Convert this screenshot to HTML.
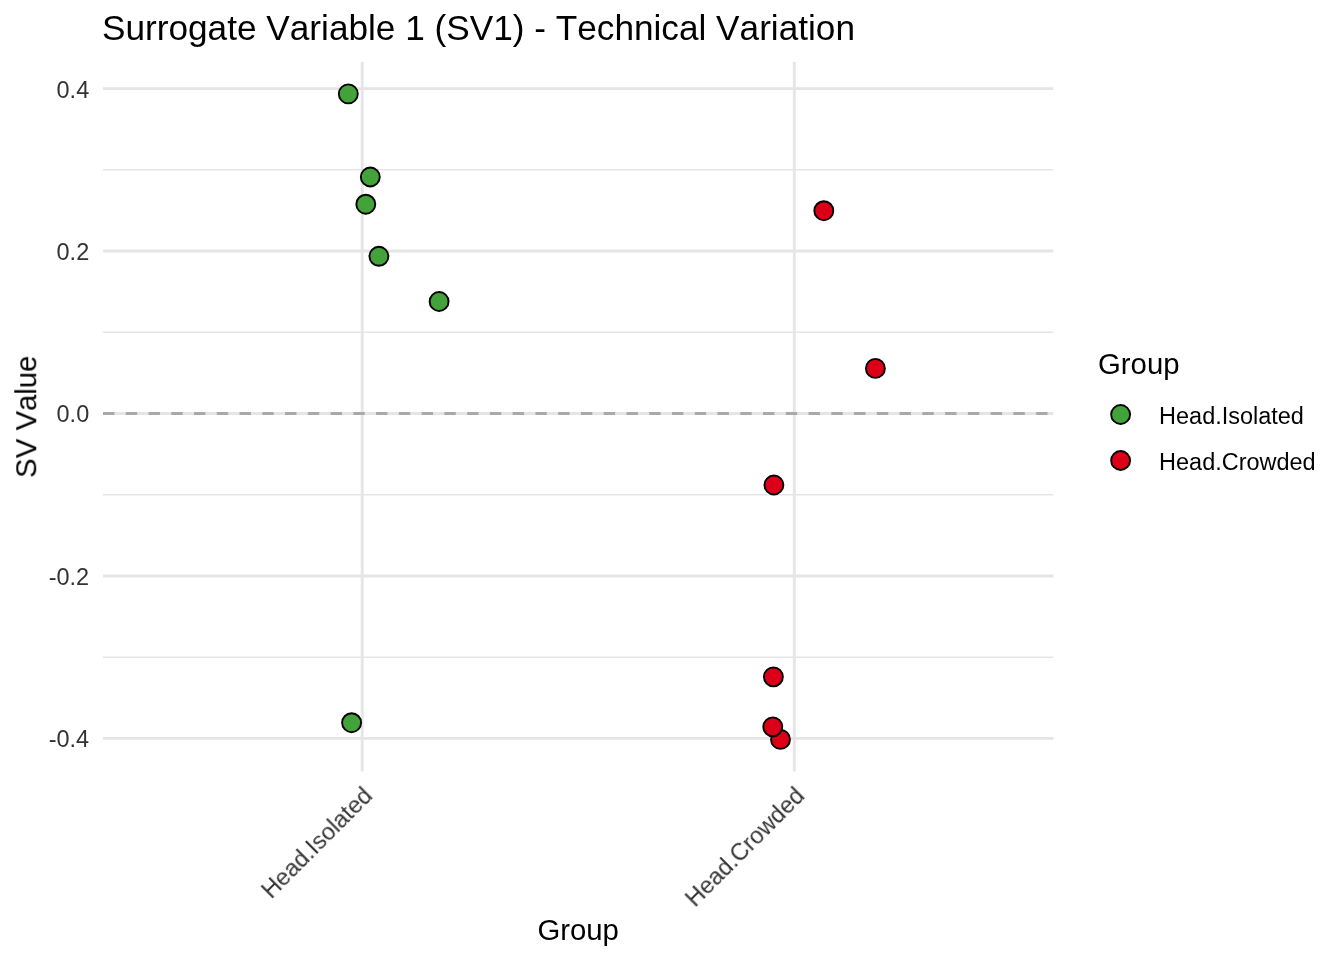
<!DOCTYPE html>
<html><head><meta charset="utf-8"><title>SV1</title>
<style>html,body{margin:0;padding:0;background:#fff;}svg{display:block;}</style></head>
<body>
<svg width="1344" height="960" viewBox="0 0 1344 960">
<rect width="1344" height="960" fill="#FFFFFF"/>
<line x1="103.0" x2="1053.3" y1="169.81" y2="169.81" stroke="#E5E5E5" stroke-width="1.42"/>
<line x1="103.0" x2="1053.3" y1="332.27" y2="332.27" stroke="#E5E5E5" stroke-width="1.42"/>
<line x1="103.0" x2="1053.3" y1="494.73" y2="494.73" stroke="#E5E5E5" stroke-width="1.42"/>
<line x1="103.0" x2="1053.3" y1="657.19" y2="657.19" stroke="#E5E5E5" stroke-width="1.42"/>
<line x1="103.0" x2="1053.3" y1="88.58" y2="88.58" stroke="#E5E5E5" stroke-width="2.85"/>
<line x1="103.0" x2="1053.3" y1="251.04" y2="251.04" stroke="#E5E5E5" stroke-width="2.85"/>
<line x1="103.0" x2="1053.3" y1="413.50" y2="413.50" stroke="#E5E5E5" stroke-width="2.85"/>
<line x1="103.0" x2="1053.3" y1="575.96" y2="575.96" stroke="#E5E5E5" stroke-width="2.85"/>
<line x1="103.0" x2="1053.3" y1="738.42" y2="738.42" stroke="#E5E5E5" stroke-width="2.85"/>
<line x1="362.2" x2="362.2" y1="62.0" y2="771.4" stroke="#E5E5E5" stroke-width="2.85"/>
<line x1="794.3" x2="794.3" y1="62.0" y2="771.4" stroke="#E5E5E5" stroke-width="2.85"/>
<line x1="103.0" x2="1053.3" y1="413.50" y2="413.50" stroke="#A9A9A9" stroke-width="2.85" stroke-dasharray="11.38 11.38"/>
<circle cx="348.3" cy="93.9" r="9.48" fill="#43A23A" stroke="#000" stroke-width="1.89"/>
<circle cx="370.3" cy="177.0" r="9.48" fill="#43A23A" stroke="#000" stroke-width="1.89"/>
<circle cx="365.8" cy="204.2" r="9.48" fill="#43A23A" stroke="#000" stroke-width="1.89"/>
<circle cx="378.9" cy="256.3" r="9.48" fill="#43A23A" stroke="#000" stroke-width="1.89"/>
<circle cx="439.1" cy="301.5" r="9.48" fill="#43A23A" stroke="#000" stroke-width="1.89"/>
<circle cx="351.6" cy="722.7" r="9.48" fill="#43A23A" stroke="#000" stroke-width="1.89"/>
<circle cx="823.8" cy="210.7" r="9.48" fill="#DB0018" stroke="#000" stroke-width="1.89"/>
<circle cx="875.4" cy="368.4" r="9.48" fill="#DB0018" stroke="#000" stroke-width="1.89"/>
<circle cx="773.9" cy="485.0" r="9.48" fill="#DB0018" stroke="#000" stroke-width="1.89"/>
<circle cx="773.4" cy="676.8" r="9.48" fill="#DB0018" stroke="#000" stroke-width="1.89"/>
<circle cx="780.5" cy="739.4" r="9.48" fill="#DB0018" stroke="#000" stroke-width="1.89"/>
<circle cx="772.8" cy="726.8" r="9.48" fill="#DB0018" stroke="#000" stroke-width="1.89"/>
<g font-family="'Liberation Sans', sans-serif" style="font-kerning:none" opacity="0.999">
<text x="102" y="39.6" font-size="35.2" fill="#000">Surrogate Variable 1 (SV1) - Technical Variation</text>
<text x="89.2" y="97.9" font-size="23.47" fill="#333333" text-anchor="end">0.4</text>
<text x="89.2" y="259.8" font-size="23.47" fill="#333333" text-anchor="end">0.2</text>
<text x="89.2" y="421.9" font-size="23.47" fill="#333333" text-anchor="end">0.0</text>
<text x="89.2" y="584.8" font-size="23.47" fill="#333333" text-anchor="end">-0.2</text>
<text x="89.2" y="747.0" font-size="23.47" fill="#333333" text-anchor="end">-0.4</text>
<text transform="translate(373.7,797.3) rotate(-45)" font-size="23.47" fill="#333333" text-anchor="end">Head.Isolated</text>
<text transform="translate(805.8,797.3) rotate(-45)" font-size="23.47" fill="#333333" text-anchor="end">Head.Crowded</text>
<text x="578.15" y="940" font-size="29.33" fill="#000" text-anchor="middle">Group</text>
<text transform="translate(36.25,416.7) rotate(-90)" font-size="29.33" fill="#000" text-anchor="middle">SV Value</text>
<text x="1098" y="374.4" font-size="29.33" fill="#000">Group</text>
<text x="1159.1" y="423.6" font-size="23.47" fill="#000">Head.Isolated</text>
<text x="1159.1" y="469.6" font-size="23.47" fill="#000">Head.Crowded</text>
</g>
<circle cx="1120.6" cy="414.5" r="9.48" fill="#43A23A" stroke="#000" stroke-width="1.89"/>
<circle cx="1120.6" cy="460.5" r="9.48" fill="#DB0018" stroke="#000" stroke-width="1.89"/>
</svg>
</body></html>
